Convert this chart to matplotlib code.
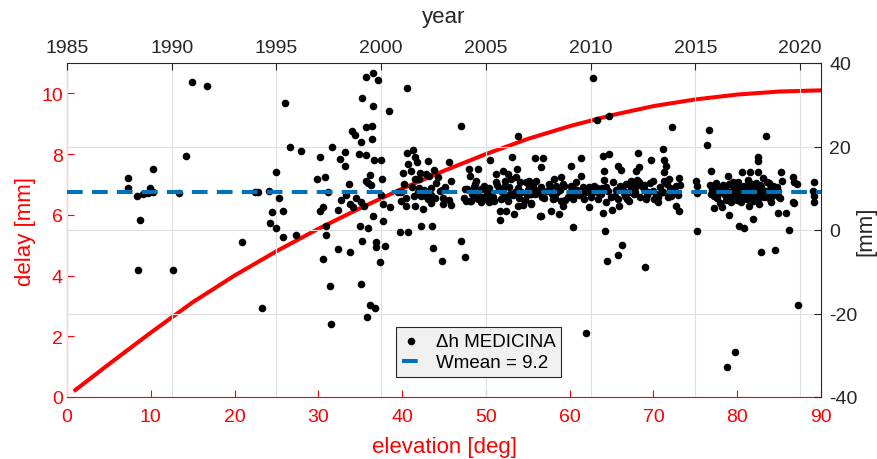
import numpy as np
import matplotlib.pyplot as plt

plt.rcParams['font.family'] = ['Liberation Sans', 'DejaVu Sans']
plt.rcParams['axes.unicode_minus'] = False

# --- red curve: delay vs elevation (bottom / left axes) ---
elevation = [1, 5, 10, 15, 20, 25, 30, 35, 40, 45, 50, 55, 60, 65, 70, 75, 80, 85, 90]
delay = [0.23, 1.08, 2.12, 3.12, 4.0, 4.8, 5.54, 6.22, 6.86, 7.45, 8.0, 8.5, 8.92, 9.28, 9.58,
         9.8, 9.96, 10.06, 10.1]

# --- dh MEDICINA, year vs [mm] (top / right axes) ---
yr_a = [1987.92, 1987.92, 1988.32, 1988.48, 1988.64, 1988.88, 1988.96, 1989.12, 1989.12, 1990.36,
        1990.66, 1990.96, 1991.69, 1988.40, 1990.07, 1993.97, 1994.10, 1994.65, 1994.97, 1995.10,
        1994.80, 1995.29, 1994.70, 1994.97, 1995.41, 1995.63, 1996.19, 1995.29, 1995.92, 1993.36,
        1994.31]
mm_a = [12.4, 10.0, 8.2, 2.5, 8.6, 8.8, 10.0, 9.0, 14.6, 8.8,
        17.8, 35.4, 34.4, -9.7, -9.5, 9.2, 9.2, 9.4, 14.0, 7.7,
        4.2, 4.6, 1.7, 0.5, 30.4, 19.9, 19.0, -1.6, -1.1, -2.8,
        -18.8]

yr_b = [1997.10, 1997.64, 1996.94, 1997.31, 1997.46, 1997.07, 1997.20, 1997.38,
        1997.38, 1997.20, 1997.94, 1997.96, 1997.56, 1997.60, 1998.05, 1998.29,
        1998.29, 1998.45, 1998.34, 1998.07, 1998.50, 1998.65, 1998.78, 1999.02,
        1999.18, 1998.50, 1998.61, 1998.77, 1999.05, 1999.10, 1999.26, 1999.60,
        1999.83, 1999.60, 1999.26, 1999.54, 1999.58, 1998.94, 1999.29, 1999.64,
        1999.97, 1999.48, 1999.37, 1999.53, 1999.29, 2000.05, 1999.97, 2000.08,
        2000.40, 1998.97, 1999.37, 1999.60, 2000.08, 1999.08, 1999.74, 1999.77,
        2000.20, 1999.96, 1999.05, 1999.48, 1999.70, 1999.32, 2000.37, 2001.23]
mm_b = [17.6, 19.8, 12.1, 12.6, 9.0, 4.6, 5.6, 0.9,
        -1.1, -6.9, 4.9, -4.6, -13.5, -22.5, 17.0, 18.7,
        15.4, 10.9, 8.5, 7.2, 6.2, 5.6, 7.6, 6.8,
        5.8, -5.3, 23.8, 22.8, 21.1, 31.6, 36.7, 37.6,
        35.9, 29.6, 24.6, 25.0, 21.8, 18.2, 18.0, 16.8,
        16.8, 13.2, 11.3, 10.8, 11.8, 12.2, 8.4, 6.2,
        5.6, 0.9, 0.5, 3.3, 2.2, -2.7, -2.8, -4.1,
        -3.8, -7.7, -12.9, -18.0, -18.6, -20.8, 28.6, 33.9]

yr_c = [2003.79, 2006.52, 2001.23, 2001.51, 2001.60, 2001.28, 2001.70, 2002.23,
        2003.23, 2001.04, 2001.43, 2001.86, 2002.12, 2002.50, 2002.71, 2001.60,
        2001.83, 2002.28, 2003.34, 2001.07, 2001.48, 2001.83, 2002.39, 2000.96,
        2001.20, 2001.55, 2001.91, 2002.23, 2002.55, 2001.17, 2001.60, 2002.02,
        2002.39, 2002.94, 2003.26, 2003.34, 2000.88, 2001.28, 2001.91, 2002.44,
        2002.47, 2002.90, 2003.82, 2003.98, 2003.95, 2004.19, 2004.62, 2004.25,
        2004.54, 2004.41, 2004.78, 2005.20, 2004.22, 2004.62, 2005.01, 2005.25,
        2004.78, 2005.17, 2005.49, 2005.80, 2006.04, 2005.49, 2005.89, 2006.20,
        2005.62, 2006.12, 2005.72, 2006.04, 2006.47, 2006.44, 2006.63, 2006.92,
        2007.36, 2006.25, 2006.52, 2006.79, 2007.16, 2005.65, 2005.94, 2005.65,
        2006.36, 2007.56, 2007.36, 2007.16, 2000.80, 2000.96, 2002.94]
mm_c = [24.8, 22.6, 18.4, 19.2, 17.6, 15.8, 16.2, 16.6,
        16.4, 13.7, 14.2, 13.7, 13.4, 14.4, 12.6, 12.2,
        12.2, 12.9, 11.8, 11.0, 10.2, 10.0, 10.0, 9.0,
        7.6, 8.2, 8.2, 7.4, 7.6, 5.8, 5.7, 5.0,
        6.5, 6.2, 7.3, 6.0, -0.4, -0.4, 1.0, 1.0,
        -4.4, -7.5, -2.6, -6.4, 7.6, 14.6, 14.6, 13.0,
        11.8, 10.2, 9.8, 16.8, 7.0, 7.4, 7.4, 8.2,
        6.6, 6.6, 13.4, 14.2, 13.4, 11.4, 11.8, 12.2,
        9.8, 10.2, 7.4, 7.0, 14.6, 12.6, 11.4, 11.6,
        17.2, 17.4, 5.8, 6.0, 6.5, 4.6, 4.6, 2.5,
        3.8, 3.3, 8.6, 8.6, 9.2, 7.0, 7.7]

yr_d = [2010.29, 2010.90, 2013.88, 2010.11, 2007.75, 2007.63, 2009.54, 2009.06,
        2010.61, 2010.90, 2012.25, 2012.88, 2013.48, 2013.52, 2013.60, 2011.29,
        2011.45, 2012.16, 2012.32, 2010.65, 2013.52, 2007.08, 2007.40, 2007.08,
        2007.63, 2007.16, 2007.79, 2007.63, 2008.11, 2008.51, 2008.27, 2008.59,
        2008.35, 2008.67, 2008.19, 2008.59, 2008.67, 2009.06, 2009.14, 2009.54,
        2009.62, 2009.70, 2009.94, 2010.18, 2009.14, 2010.65, 2010.73, 2010.49,
        2010.73, 2010.57, 2011.02, 2010.69, 2011.29, 2011.37, 2011.69, 2011.93,
        2012.16, 2011.85, 2012.32, 2012.56, 2012.64, 2012.96, 2013.04, 2013.20,
        2013.52, 2013.76, 2014.08, 2014.08, 2013.84, 2011.50, 2011.29, 2010.77,
        2012.59, 2009.80, 2014.23, 2014.23]
mm_d = [26.3, 27.4, 24.7, 36.4, 17.3, 15.0, 17.2, 15.4,
        17.8, 18.2, 18.4, 16.8, 19.4, 16.8, 15.4, 15.4,
        14.4, 14.2, 15.0, 14.2, 13.8, 11.8, 11.8, 10.5,
        10.2, 6.2, 7.6, 3.4, 4.6, 3.8, 12.2, 12.6,
        10.5, 11.0, 7.4, 7.0, 5.8, 10.5, 7.4, 12.9,
        10.2, 7.4, 5.4, 10.6, 0.6, 12.0, 10.2, 8.6,
        6.6, 4.0, 4.9, -0.2, 7.4, 5.8, 11.0, 11.8,
        10.6, 9.0, 11.4, 9.8, 7.4, 11.8, 7.4, 6.6,
        11.8, 12.2, 10.6, 5.8, 8.2, -3.6, -6.0, -7.5,
        -8.9, -24.6, 12.5, 4.6]

yr_e = [2015.66, 2015.58, 2018.37, 2017.97, 2017.97, 2015.77, 2017.25, 2017.60,
        2017.97, 2019.08, 2015.05, 2015.10, 2015.07, 2015.10, 2015.90, 2016.58,
        2016.62, 2017.10, 2017.33, 2017.73, 2018.13, 2018.79, 2018.97, 2019.32,
        2019.48, 2019.64, 2019.72, 2019.72, 2020.67, 2020.67, 2020.67, 2020.62,
        2019.13, 2018.76, 2019.00, 2018.68, 2019.91, 2016.49, 2016.90, 2019.87,
        2019.68]
mm_e = [24.0, 20.4, 22.4, 17.6, 16.6, 14.2, 13.8, 13.8,
        13.8, 13.8, 11.8, 10.5, 8.8, -0.2, 5.2, 12.9,
        3.6, 0.9, 0.4, 2.6, -5.3, -4.7, 4.0, 4.0,
        0.0, 12.6, 11.4, 6.5, 11.4, 8.2, 6.6, 9.4,
        11.8, 10.2, 7.8, 8.2, -18.0, -32.9, -29.2, 11.0,
        6.8]

# points hidden in the dense bands
yr_f = [2002.05, 2002.30, 2002.60, 2002.80, 2003.05, 2002.15, 2004.30, 2004.00, 2004.35, 2004.50,
        2004.70, 2004.90, 2005.05, 2005.35, 2005.55, 2005.75, 2005.95, 2006.30, 2006.55, 2006.70,
        2006.85, 2007.00, 2007.25, 2007.50, 2007.90, 2008.00, 2008.15, 2008.40, 2008.75, 2008.90,
        2009.20, 2009.30, 2009.45, 2009.80, 2010.00, 2010.30, 2010.40, 2010.85, 2011.05, 2011.15,
        2011.55, 2011.75, 2011.95, 2012.05, 2012.20, 2012.45, 2012.75, 2012.85, 2013.10, 2013.30,
        2013.40, 2013.65, 2013.70, 2013.95, 2014.15, 2014.25, 2004.10, 2006.15, 2009.00, 2011.60]
mm_f = [9.6, 8.8, 11.2, 9.4, 10.4, 8.2, 7.0, 9.8, 8.6, 11.0,
        7.8, 10.6, 9.0, 8.0, 10.8, 9.2, 7.6, 8.4, 10.0, 9.0,
        7.2, 9.6, 10.8, 8.8, 9.4, 11.0, 8.6, 9.2, 10.6, 8.0,
        9.8, 11.6, 8.4, 9.0, 7.8, 10.0, 8.8, 9.4, 11.4, 8.2,
        9.6, 7.4, 10.2, 8.6, 12.0, 10.6, 9.0, 11.2, 8.6, 10.4,
        9.2, 11.0, 7.8, 9.6, 8.4, 10.8, 9.8, 8.6, 9.2, 8.8]

yr_h = [2004.05, 2004.45, 2004.85, 2005.15, 2005.40, 2005.85, 2006.05, 2006.40, 2006.60, 2006.95,
        2007.30, 2007.70, 2008.05, 2008.30, 2008.55, 2008.80, 2009.10, 2009.35, 2009.60, 2009.90,
        2010.10, 2010.35, 2010.55, 2010.95, 2011.20, 2011.40, 2011.65, 2011.85, 2012.10, 2012.35,
        2012.55, 2012.70, 2013.00, 2013.20, 2013.45, 2013.80, 2014.00, 2002.40, 2002.90, 2001.75]
mm_h = [7.0, 8.4, 8.0, 10.0, 7.0, 10.4, 8.2, 9.0, 7.6, 8.4,
        9.8, 8.0, 10.2, 7.6, 9.6, 7.2, 8.6, 9.6, 9.0, 10.4,
        9.2, 7.4, 10.0, 8.0, 9.6, 10.6, 8.2, 7.0, 9.0, 8.0,
        10.8, 8.4, 9.4, 7.8, 9.0, 10.0, 8.8, 8.4, 9.6, 9.2]

yr_g = [2015.70, 2015.80, 2015.90, 2016.00, 2016.05, 2016.15, 2016.20, 2016.30, 2016.35, 2016.45,
        2016.50, 2016.60, 2016.70, 2016.75, 2016.85, 2016.90, 2017.00, 2017.05, 2017.15, 2017.20,
        2017.30, 2017.35, 2017.45, 2017.50, 2017.60, 2017.65, 2017.75, 2017.80, 2017.90, 2018.00,
        2018.05, 2018.15, 2018.20, 2018.30, 2018.40, 2018.45, 2018.55, 2018.60, 2018.70, 2018.85,
        2018.95, 2019.05, 2016.25, 2017.55, 2018.25]
mm_g = [10.8, 9.6, 8.2, 11.2, 7.6, 9.8, 6.4, 10.4, 8.6, 7.2,
        9.4, 11.0, 6.8, 8.8, 10.2, 7.8, 9.0, 11.6, 8.0, 6.6,
        10.6, 9.2, 7.4, 12.0, 8.4, 10.0, 7.0, 9.6, 11.2, 8.6,
        6.2, 10.4, 9.0, 7.8, 11.4, 8.2, 9.8, 6.8, 10.6, 8.8,
        9.4, 7.6, 5.6, 5.8, 12.4]

yr_i = [2015.75, 2015.95, 2016.10, 2016.40, 2016.55, 2016.65, 2016.80, 2016.95, 2017.10, 2017.25,
        2017.40, 2017.70, 2017.85, 2017.95, 2018.10, 2018.35, 2018.50, 2018.65, 2018.80, 2018.90,
        2016.30, 2017.00, 2017.50, 2018.00, 2018.50]
mm_i = [8.6, 10.6, 8.8, 9.6, 7.6, 9.0, 11.4, 8.4, 10.2, 9.4,
        8.6, 11.0, 8.2, 9.8, 10.8, 9.4, 7.6, 8.8, 9.2, 10.2,
        10.8, 7.2, 10.6, 7.4, 11.2]

wmean = 9.2

dh_year = np.concatenate([yr_a, yr_b, yr_c, yr_d, yr_e, yr_f, yr_h, yr_g, yr_i])
dh_mm = np.concatenate([mm_a, mm_b, mm_c, mm_d, mm_e, mm_f, mm_h, mm_g, mm_i])

red = '#ff0000'
blue = '#0072bd'
dark = '#262626'

fig = plt.figure(figsize=(8.77, 4.6), dpi=100)
rect = [67 / 877, 62 / 460, 754 / 877, 334 / 460]
ax1 = fig.add_axes(rect)
ax2 = fig.add_axes(rect)
ax2.patch.set_visible(False)

# --- bottom/left: delay ---
ax1.plot(elevation, delay, color=red, lw=2.9)
ax1.set_xlim(0, 90)
ax1.set_ylim(0, 11)
ax1.set_xticks(range(0, 91, 10))
ax1.set_yticks(range(0, 11, 2))
ax1.tick_params(direction='in', colors=red, labelsize=14, length=5, width=0.8)
ax1.tick_params(axis='x', pad=8)
ax1.tick_params(axis='y', pad=3)
for s in ['top', 'right']:
    ax1.spines[s].set_visible(False)
for s in ['left', 'bottom']:
    ax1.spines[s].set_color(red)
    ax1.spines[s].set_linewidth(0.8)
ax1.set_xlabel('elevation [deg]', color=red, fontsize=16, labelpad=8)
ax1.set_ylabel('delay [mm]', color=red, fontsize=16, labelpad=4)

# --- top/right: dh per year ---
ax2.xaxis.tick_top()
ax2.xaxis.set_label_position('top')
ax2.yaxis.tick_right()
ax2.yaxis.set_label_position('right')
ax2.set_xlim(1985, 2021)
ax2.set_ylim(-40, 40)
ax2.set_xticks(range(1985, 2021, 5))
ax2.set_yticks(range(-40, 41, 20))
ax2.set_axisbelow(True)
ax2.grid(True, color='#dedede', lw=0.8)
ax2.tick_params(direction='in', colors=dark, labelsize=14, length=5, width=0.8)
ax2.tick_params(axis='x', pad=5)
ax2.tick_params(axis='y', pad=6)
for s in ['left', 'bottom']:
    ax2.spines[s].set_visible(False)
for s in ['top', 'right']:
    ax2.spines[s].set_color(dark)
    ax2.spines[s].set_linewidth(0.8)
ax2.set_xlabel('year', color=dark, fontsize=16, labelpad=12)
ax2.set_ylabel('[mm]', color=dark, fontsize=16)
ax2.yaxis.set_label_coords(1.06, 0.5)
ax2.yaxis.label.set_verticalalignment('center')

ax2.scatter(dh_year, dh_mm, s=30, c='black', linewidths=0, zorder=3, label='\u0394h MEDICINA')
ax2.axhline(wmean, color=blue, lw=2.9, dashes=(3.9, 2.3), zorder=4, label=f'Wmean = {wmean}')

leg = ax2.legend(loc='lower left', bbox_to_anchor=(0.437, 0.06), borderaxespad=0, fontsize=13.5,
                 fancybox=False, edgecolor=dark, facecolor='#f0f0f0', framealpha=1,
                 handlelength=0.9, handletextpad=0.9, borderpad=0.3, labelspacing=0.25)
leg.get_frame().set_linewidth(0.8)

fig.savefig('out.png', dpi=100)
